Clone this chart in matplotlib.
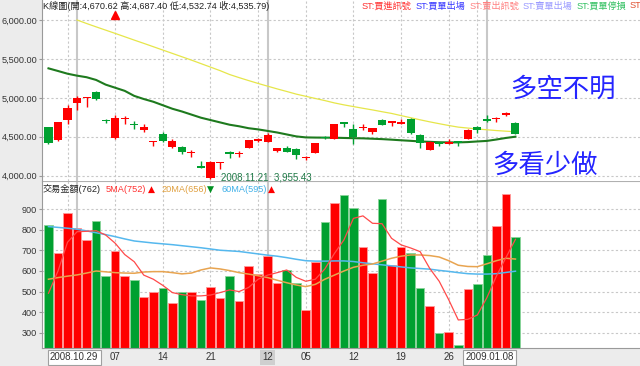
import numpy as np
import matplotlib
matplotlib.use('Agg')
import matplotlib.pyplot as plt
from matplotlib.ticker import FuncFormatter

plt.rcParams['font.family'] = ['Liberation Sans', 'Noto Sans CJK TC', 'DejaVu Sans']

# ---- data (bar index 0..49) ----
opens = [4621, 4454, 4715, 4929, 4992, 5079, 4706, 4480, 4722, 4655,
         4582, 4433, 4540, 4373, 4364, 4288, 4124, 3966, 4160, 4290,
         4281, 4351, 4452, 4432, 4317, 4360, 4347, 4225, 4291, 4490,
         4471, 4674, 4595, 4615, 4565, 4711, 4683, 4664, 4732, 4518,
         4334, 4417, 4407, 4430, 4471, 4621, 4724, 4726, 4786, 4670.62]
highs = [4630, 4690, 4908, 5019, 5015, 5092, 4728, 4780, 4767, 4707,
         4668, 4450, 4557, 4475, 4377, 4330, 4195, 4188, 4180, 4315,
         4315, 4463, 4480, 4544, 4360, 4377, 4360, 4248, 4424, 4514,
         4668, 4694, 4660, 4660, 4608, 4724, 4690, 4724, 4745, 4540,
         4441, 4437, 4467, 4430, 4595, 4634, 4780, 4754, 4814, 4687.40]
lows = [4403, 4450, 4664, 4844, 4878, 4972, 4681, 4471, 4664, 4604,
        4557, 4386, 4437, 4360, 4274, 4240, 4094, 3955.43, 4086, 4229,
        4246, 4351, 4428, 4428, 4300, 4300, 4218, 4205, 4291, 4471,
        4471, 4625, 4407, 4587, 4535, 4651, 4634, 4664, 4540, 4360,
        4325, 4385, 4403, 4385, 4471, 4544, 4694, 4690, 4771, 4532.74]
closes = [4415, 4685, 4874, 4998, 5000, 4981, 4700, 4741, 4730, 4649,
          4625, 4438, 4450, 4445, 4308, 4292, 4094, 4180, 4165, 4285,
          4285, 4454, 4456, 4518, 4360, 4308, 4261, 4229, 4420, 4486,
          4660, 4670, 4497, 4619, 4608, 4655, 4687, 4694, 4544, 4415,
          4432, 4413, 4437, 4426, 4591, 4591, 4707, 4730, 4790, 4535.79]

# price moving averages (yellow one starts at bar 3)
ma_yellow = [6000, 5955, 5912, 5870, 5828, 5785, 5742, 5700, 5657, 5614,
             5571, 5528, 5485, 5440, 5395, 5350, 5300, 5260, 5222, 5185,
             5150, 5115, 5082, 5048, 5020, 4992, 4965, 4935, 4910, 4888,
             4866, 4845, 4822, 4800, 4772, 4745, 4718, 4692, 4668, 4645,
             4624, 4612, 4600, 4590, 4580, 4572, 4565]
ma_green = [5379, 5345, 5310, 5285, 5265, 5230, 5170, 5130, 5090, 5025,
            4985, 4950, 4905, 4860, 4825, 4785, 4745, 4715, 4685, 4655,
            4635, 4610, 4595, 4575, 4555, 4530, 4505, 4492, 4490, 4489,
            4488, 4485, 4482, 4480, 4475, 4470, 4463, 4455, 4448, 4440,
            4435, 4430, 4428, 4428, 4432, 4440, 4447, 4465, 4485, 4501]

volumes = [824, 686, 884, 808, 751, 845, 577, 696, 577, 558,
           474, 496, 519, 445, 496, 496, 461, 522, 467, 577,
           454, 626, 587, 673, 543, 603, 540, 412, 646, 837,
           932, 968, 906, 717, 592, 952, 629, 717, 686, 519,
           432, 300, 303, 242, 511, 539, 676, 819, 975, 764]
vol_ma5 = [492, 600, 740, 791, 793, 796, 775, 735, 680, 645,
           580, 560, 530, 495, 485, 479, 479, 483, 495, 508,
           500, 520, 560, 580, 592, 605, 569, 550, 560, 610,
           685, 751, 856, 868, 832, 830, 759, 727, 712, 694,
           613, 550, 460, 362, 365, 386, 470, 575, 665, 754]
vol_ma20 = [560, 568, 575, 581, 590, 600, 596, 592, 590, 589,
            595, 597, 597, 592, 586, 590, 605, 615, 610, 602,
            592, 585, 577, 568, 555, 543, 532, 524, 535, 560,
            580, 600, 618, 628, 634, 648, 662, 672, 678, 678,
            675, 668, 650, 628, 622, 621, 635, 650, 662, 658]
vol_ma60 = [816, 812, 808, 803, 795, 786, 777, 767, 756, 746,
            741, 736, 732, 728, 723, 718, 713, 707, 701, 698,
            695, 689, 683, 677, 672, 665, 657, 650, 648, 648,
            649, 649, 646, 640, 635, 630, 625, 620, 615, 612,
            609, 603, 598, 592, 587, 585, 585, 587, 593, 599]

date_ticks = [7, 12, 17, 27, 32, 37, 42]
date_labels = ['07', '14', '21', '05', '12', '19', '26']
grid_x = [2, 7, 12, 17, 22, 27, 32, 37, 42, 45]
cursor_x = [3, 23, 46]
price_ticks = [4000, 4500, 5000, 5500, 6000]
vol_ticks = [300, 400, 500, 600, 700, 800, 900]

RED = '#ff0000'
GREEN = '#00a030'
GRID = '#c8c8c8'
W, H = 640, 366
FS = 6.6


def fx(px):
    return px / W


def fy(py):
    return 1 - py / H


fig = plt.figure(figsize=(6.4, 3.66), dpi=100, facecolor='#ececec')
ax_k = fig.add_axes([fx(42), fy(181), 598 / W, 181 / H], facecolor='white')
ax_v = fig.add_axes([fx(42), fy(348), 598 / W, 167 / H], facecolor='white')

x = np.arange(len(closes))
o = np.array(opens)
c = np.array(closes)
up = c >= o
colors = np.where(up, RED, GREEN)

for ax in (ax_k, ax_v):
    ax.set_xlim(-0.68, 62.07)
    for g in grid_x:
        ax.axvline(g, color=GRID, lw=0.8, ls=(0, (2, 2)), zorder=0)
    for g in cursor_x:
        ax.axvline(g, color='#c8c8c8', lw=1.5, zorder=0)
    for s in ('top', 'right'):
        ax.spines[s].set_visible(False)
    ax.spines['left'].set_color('#9a9a9a')
    ax.spines['bottom'].set_color('#9a9a9a')
    ax.tick_params(axis='y', length=2, color='#9a9a9a', labelsize=FS,
                   labelcolor='#333333', pad=1.5)

# ---- candles ----
ax_k.set_ylim(3932, 6257)
for t in price_ticks:
    ax_k.axhline(t, color=GRID, lw=0.8, ls=(0, (2, 2)), zorder=0)
ax_k.set_yticks(price_ticks)
ax_k.yaxis.set_major_formatter(FuncFormatter(lambda v, p: f'{v:,.2f}'))
ax_k.set_xticks([])
ax_k.spines['bottom'].set_visible(False)

ax_k.vlines(x, lows, highs, colors=colors, lw=1.0, zorder=3)
body = np.maximum(np.abs(c - o), 16)
ax_k.bar(x, body, bottom=np.minimum(o, c), width=0.85, color=colors, zorder=4)

ax_k.plot(np.arange(3, 3 + len(ma_yellow)), ma_yellow, color='#e6e64a', lw=0.9, zorder=2)
ax_k.plot(x, ma_green, color='#1e7a1e', lw=1.5, zorder=2)
ax_k.plot([7], [6058], marker='^', color=RED, ms=6, zorder=5)

# ---- volume ----
ax_v.set_ylim(225.6, 1037.6)
for t in vol_ticks:
    ax_v.axhline(t, color=GRID, lw=0.8, ls=(0, (2, 2)), zorder=0)
ax_v.set_yticks(vol_ticks)
edge = np.where(up, '#ff9a9a', '#8ad49a')
ax_v.bar(x, volumes, width=0.9, color=colors, edgecolor=edge, lw=0.6, zorder=2)
ax_v.plot(x, vol_ma60, color='#55b8ee', lw=1.1, zorder=3)
ax_v.plot(x, vol_ma20, color='#e8a450', lw=1.1, zorder=3)
ax_v.plot(x, vol_ma5, color='#ff4a4a', lw=0.9, zorder=3)
ax_v.axhline(1037.6, color='#b0b0b0', lw=0.8)

ax_v.set_xticks(date_ticks)
ax_v.set_xticklabels(date_labels)
ax_v.tick_params(axis='x', length=0, labelsize=FS + 0.4, labelcolor='#333333', pad=3)

box_style = dict(boxstyle='square,pad=0.25', fc='white', ec='#a0a0a0', lw=0.8)
ax_v.text(2.7, -0.055, '2008.10.29', transform=ax_v.get_xaxis_transform(),
          ha='center', va='center', fontsize=FS + 0.4, color='#333333', bbox=box_style)
ax_v.text(23, -0.055, '12', transform=ax_v.get_xaxis_transform(),
          ha='center', va='center', fontsize=FS + 0.4, color='#333333',
          bbox=dict(boxstyle='square,pad=0.25', fc='#cfcfcf', ec='none'))
ax_v.text(46.3, -0.055, '2009.01.08', transform=ax_v.get_xaxis_transform(),
          ha='center', va='center', fontsize=FS + 0.4, color='#333333', bbox=box_style)

# ---- header texts ----
fig.text(fx(43), fy(6), 'K線圖(開:4,670.62 高:4,687.40 低:4,532.74 收:4,535.79)',
         fontsize=FS, color='#222222', va='center')
legend_items = [(362, 'ST:買進訊號', '#ff3030'), (416, 'ST:買單出場', '#3434ff'),
                (470, 'ST:賣出訊號', '#ff8080'), (523, 'ST:賣單出場', '#9a9aff'),
                (577, 'ST:買單停損', '#30c060'), (630, 'ST', '#e05030')]
for px, s, col in legend_items:
    fig.text(fx(px), fy(6), s, fontsize=FS, color=col, va='center')

fig.text(fx(43), fy(189), '交易金額(762)', fontsize=FS, color='#222222', va='center')
fig.text(fx(106), fy(189), '5MA(752)', fontsize=FS, color='#ff3030', va='center')
fig.text(fx(148), fy(189), '▲', fontsize=FS, color='#ff0000', va='center', family='DejaVu Sans')
fig.text(fx(161), fy(189), '20MA(656)', fontsize=FS, color='#e0a040', va='center')
fig.text(fx(207), fy(189), '▼', fontsize=FS, color='#009020', va='center', family='DejaVu Sans')
fig.text(fx(221), fy(189), '60MA(595)', fontsize=FS, color='#40b0e8', va='center')
fig.text(fx(268), fy(189), '▲', fontsize=FS, color='#ff0000', va='center', family='DejaVu Sans')

fig.text(fx(221), fy(177), '2008.11.21  3,955.43', fontsize=FS + 0.4, color='#207a48', va='center')

fig.text(fx(563), fy(89), '多空不明', fontsize=19, color='#2424ff', ha='center', va='center',
         family=['Noto Sans CJK TC'])
fig.text(fx(545), fy(165), '多看少做', fontsize=19, color='#2424ff', ha='center', va='center',
         family=['Noto Sans CJK TC'])

fig.savefig('out.png', dpi=100, facecolor=fig.get_facecolor())
